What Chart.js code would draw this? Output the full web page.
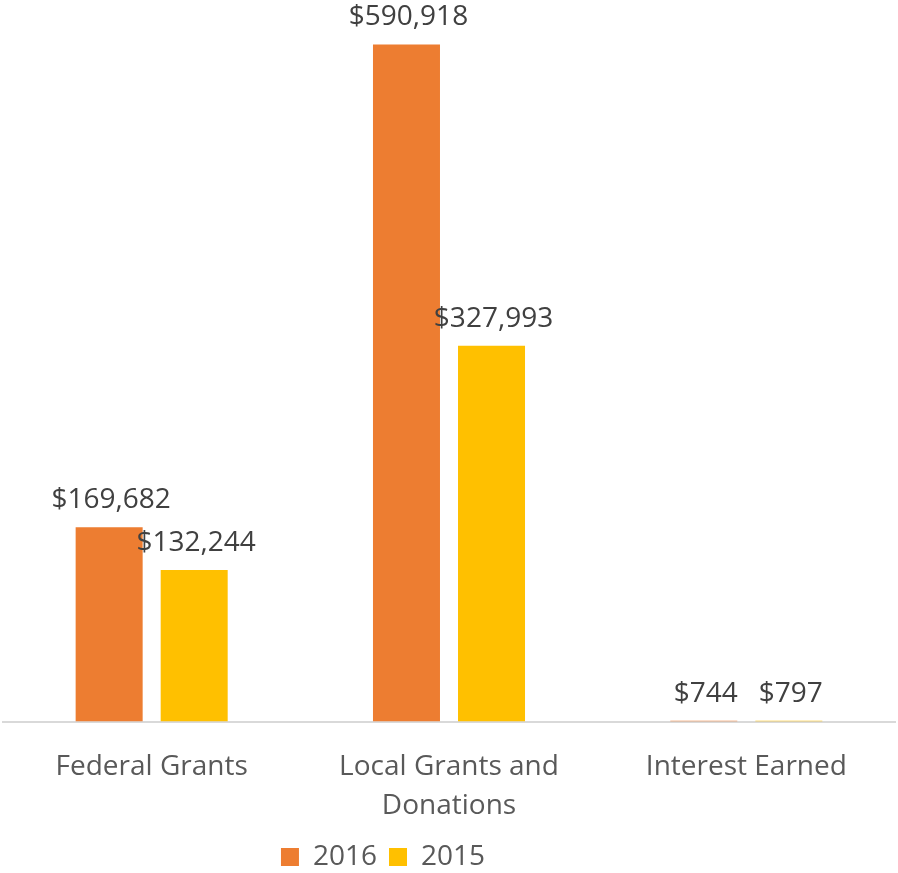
<!DOCTYPE html>
<html lang="en">
<head>
    <meta charset="UTF-8">
    <title>Revenue by Source</title>
    <script src="https://cdn.jsdelivr.net/npm/chart.js"></script>
    <style>
        body { margin: 0; background: #fff; }
    </style>
</head>
<body>
    <canvas id="revenueChart" width="898" height="873"></canvas>

    <script>
        const categories = ['Federal Grants', ['Local Grants and', 'Donations'], 'Interest Earned'];
        const values2016 = [169682, 590918, 744];
        const values2015 = [132244, 327993, 797];
        const seriesNames = ['2016', '2015'];

        const FONT = '"Open Sans", sans-serif';

        // dollar labels above each bar
        const valueLabels = {
            id: 'valueLabels',
            afterDatasetsDraw(chart) {
                const ctx = chart.ctx;
                ctx.save();
                ctx.font = '28px ' + FONT;
                ctx.fillStyle = '#404040';
                ctx.textAlign = 'center';
                ctx.textBaseline = 'alphabetic';
                chart.data.datasets.forEach((ds, i) => {
                    chart.getDatasetMeta(i).data.forEach((bar, j) => {
                        const txt = '$' + ds.data[j].toLocaleString('en-US');
                        ctx.fillText(txt, bar.x + 2, bar.y - 19);
                    });
                });
                ctx.restore();
            }
        };

        // legend in the reference sits a bit left of centre
        const legendShift = {
            id: 'legendShift',
            afterLayout(chart) {
                chart.legend.left -= 66;
                chart.legend.right -= 66;
            }
        };

        const ctx = document.getElementById('revenueChart').getContext('2d');
        new Chart(ctx, {
            type: 'bar',
            data: {
                labels: categories,
                datasets: [{
                    label: seriesNames[0],
                    data: values2016,
                    backgroundColor: '#ED7D31',
                    categoryPercentage: 0.572,
                    barPercentage: 0.788
                }, {
                    label: seriesNames[1],
                    data: values2015,
                    backgroundColor: '#FFC000',
                    categoryPercentage: 0.572,
                    barPercentage: 0.788
                }]
            },
            options: {
                responsive: false,
                animation: false,
                layout: {
                    padding: { top: 34, left: 3, right: 3, bottom: 0 }
                },
                plugins: {
                    tooltip: { enabled: false },
                    legend: {
                        position: 'bottom',
                        maxHeight: 42,
                        labels: {
                            boxWidth: 18,
                            boxHeight: 18,
                            padding: 12,
                            color: '#595959',
                            font: { family: FONT, size: 28 }
                        }
                    }
                },
                scales: {
                    x: {
                        grid: { display: false, drawTicks: false },
                        border: { display: true, color: '#D9D9D9', width: 2 },
                        ticks: {
                            color: '#595959',
                            padding: 26,
                            maxRotation: 0,
                            font: { family: FONT, size: 28, lineHeight: 1.4 }
                        },
                        afterFit(scale) {
                            scale.height -= 21;
                        }
                    },
                    y: {
                        display: false,
                        min: 0,
                        max: 600000
                    }
                }
            },
            plugins: [valueLabels, legendShift]
        });
    </script>
</body>
</html>
